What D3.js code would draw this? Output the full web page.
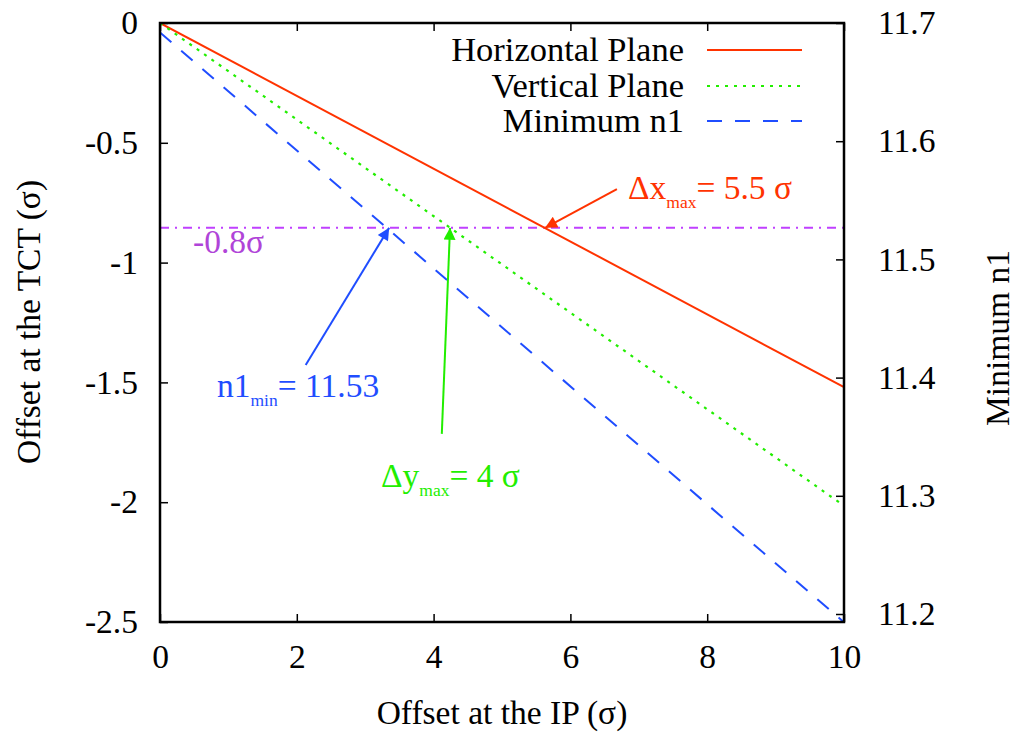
<!DOCTYPE html>
<html><head><meta charset="utf-8">
<script src="https://cdn.jsdelivr.net/npm/d3@7"></script>
<style>
html,body{margin:0;padding:0;background:#fff;}
</style></head>
<body><svg id="c" width="1015" height="732"></svg>
<script>
// ---- data ----
const xTicks = [0, 2, 4, 6, 8, 10];
const yLeftTicks = [0, -0.5, -1, -1.5, -2, -2.5];
const yLeftTickLabels = ["0", "-0.5", "-1", "-1.5", "-2", "-2.5"];
const yRightTicks = [11.2, 11.3, 11.4, 11.5, 11.6, 11.7];
const xValues = [0, 10];
const horizontalPlane = [0, -1.52];      // left axis
const verticalPlane = [0, -2.015];       // left axis
const minimumN1 = [11.692, 11.193];      // right axis
const thresholdY = -0.855;               // dash-dot line (left axis)
const seriesNames = ["Horizontal Plane", "Vertical Plane", "Minimum n1"];
// arrow tails (data coords, left axis) and heads x
const arrowTails = [[6.68, -0.693], [2.13, -1.427], [4.12, -1.715]];
const arrowHeadsX = [5.63, 3.35, 4.24];

const FONT = '"Liberation Serif"';
const m = {l:160, r:844, t:23, b:622};
const svg = d3.select("#c").attr("font-family", FONT);
const x = d3.scaleLinear().domain([0,10]).range([m.l, m.r]);
const yL = d3.scaleLinear().domain([-2.5,0]).range([m.b, m.t]);
const yR = d3.scaleLinear().domain([11.7 - (m.b-m.t)/1182, 11.7]).range([m.b, m.t]);

const red = "#ff3300", green = "#22ee00", blue = "#1f4dff", mag = "#c040ff";
const FS = 33.5;

// clip
svg.append("defs").append("clipPath").attr("id","clip")
  .append("rect").attr("x",m.l).attr("y",m.t).attr("width",m.r-m.l).attr("height",m.b-m.t);

// axes
const tl = 8;
const gx = svg.append("g").attr("transform",`translate(0,${m.b})`)
  .call(d3.axisBottom(x).tickValues(xTicks).tickSize(-tl).tickPadding(22).tickFormat(d3.format("d")));
const gxt = svg.append("g").attr("transform",`translate(0,${m.t})`)
  .call(d3.axisTop(x).tickValues(xTicks).tickSize(-tl).tickFormat(""));
const gyl = svg.append("g").attr("transform",`translate(${m.l},0)`)
  .call(d3.axisLeft(yL).tickValues(yLeftTicks).tickSize(-tl).tickPadding(22)
    .tickFormat((d,i)=>yLeftTickLabels[i]));
const gyr = svg.append("g").attr("transform",`translate(${m.r},0)`)
  .call(d3.axisRight(yR).tickValues(yRightTicks).tickSize(-tl).tickPadding(34).tickFormat(d3.format(".1f")));
[gx,gxt,gyl,gyr].forEach(g=>{
  g.attr("font-family",FONT);
  g.select(".domain").remove();
  g.selectAll("line").attr("stroke","#000").attr("stroke-width",1.5);
  g.selectAll("text").attr("font-size",FS).attr("fill","#000").attr("font-family",FONT);
});
gyl.selectAll("text").attr("dy","0.32em");
gyr.selectAll("text").attr("dy","0.32em");
gx.selectAll("text").attr("dy","0.71em");

// lines
const gl = svg.append("g").attr("clip-path","url(#clip)");
const lineL = d3.line().x((d,i)=>x(xValues[i])).y(d=>yL(d));
const lineR = d3.line().x((d,i)=>x(xValues[i])).y(d=>yR(d));
gl.append("line").attr("x1",x(0)).attr("x2",x(10)).attr("y1",yL(thresholdY)).attr("y2",yL(thresholdY))
  .attr("stroke",mag).attr("stroke-width",2).attr("stroke-dasharray","9,6,2,6");
gl.append("path").attr("d",lineL(horizontalPlane)).attr("fill","none").attr("stroke",red).attr("stroke-width",2);
gl.append("path").attr("d",lineL(verticalPlane)).attr("fill","none").attr("stroke",green).attr("stroke-width",2.2).attr("stroke-dasharray","3,6");
gl.append("path").attr("d",lineR(minimumN1)).attr("fill","none").attr("stroke",blue).attr("stroke-width",2).attr("stroke-dasharray","15,13");

// frame
svg.append("rect").attr("x",m.l).attr("y",m.t).attr("width",m.r-m.l).attr("height",m.b-m.t)
  .attr("fill","none").attr("stroke","#000").attr("stroke-width",2.5);

// legend
const legY = [50, 86, 121];
const legStyles = [{c:red,d:null},{c:green,d:"3,6"},{c:blue,d:"15,13"}];
seriesNames.forEach((n,i)=>{
  svg.append("text").attr("x",684).attr("y",legY[i]).attr("dy","0.33em").attr("text-anchor","end")
    .attr("font-family",FONT).attr("font-size",34.5).text(n);
  svg.append("line").attr("x1",707).attr("x2",802).attr("y1",legY[i]).attr("y2",legY[i])
    .attr("stroke",legStyles[i].c).attr("stroke-width",2).attr("stroke-dasharray",legStyles[i].d);
});

// arrows
const arrowCols = [red, blue, green];
const defs = svg.select("defs");
arrowCols.forEach((c,i)=>{
  defs.append("marker").attr("id","ah"+i).attr("viewBox","0 0 10 10").attr("refX",10).attr("refY",5)
    .attr("markerWidth",18).attr("markerHeight",12).attr("markerUnits","userSpaceOnUse").attr("orient","auto")
    .append("path").attr("d","M0,0 L10,5 L0,10 Z").attr("fill",c);
});
arrowTails.forEach((t,i)=>{
  svg.append("line").attr("x1",x(t[0])).attr("y1",yL(t[1]))
    .attr("x2",x(arrowHeadsX[i])).attr("y2",yL(thresholdY))
    .attr("stroke",arrowCols[i]).attr("stroke-width",2).attr("marker-end",`url(#ah${i})`);
});

// annotations
function ann(xp, yp, col, main, sub, rest){
  const t = svg.append("text").attr("x",xp).attr("y",yp).attr("fill",col)
    .attr("font-family",FONT).attr("font-size",FS);
  t.append("tspan").text(main);
  if(sub){
    t.append("tspan").attr("font-size",17.5).attr("dy",9).text(sub);
    t.append("tspan").attr("dy",-9).text(rest);
  }
}
ann(628, 199, red, "Δx", "max", "= 5.5 σ");
ann(193, 253, "#b044d8", "-0.8σ");
ann(217, 397, blue, "n1", "min", "= 11.53");
ann(381, 487, green, "Δy", "max", "= 4 σ");

// axis titles
svg.append("text").attr("x",(m.l+m.r)/2).attr("y",713).attr("dy","0.33em").attr("text-anchor","middle")
  .attr("font-family",FONT).attr("font-size",FS).text("Offset at the IP (σ)");
svg.append("text").attr("transform","translate(30,322) rotate(-90)").attr("dy","0.3em").attr("text-anchor","middle")
  .attr("font-family",FONT).attr("font-size",FS).text("Offset at the TCT (σ)");
svg.append("text").attr("transform","translate(999,338) rotate(-90)").attr("dy","0.3em").attr("text-anchor","middle")
  .attr("font-family",FONT).attr("font-size",FS).text("Minimum n1");
</script></body></html>
